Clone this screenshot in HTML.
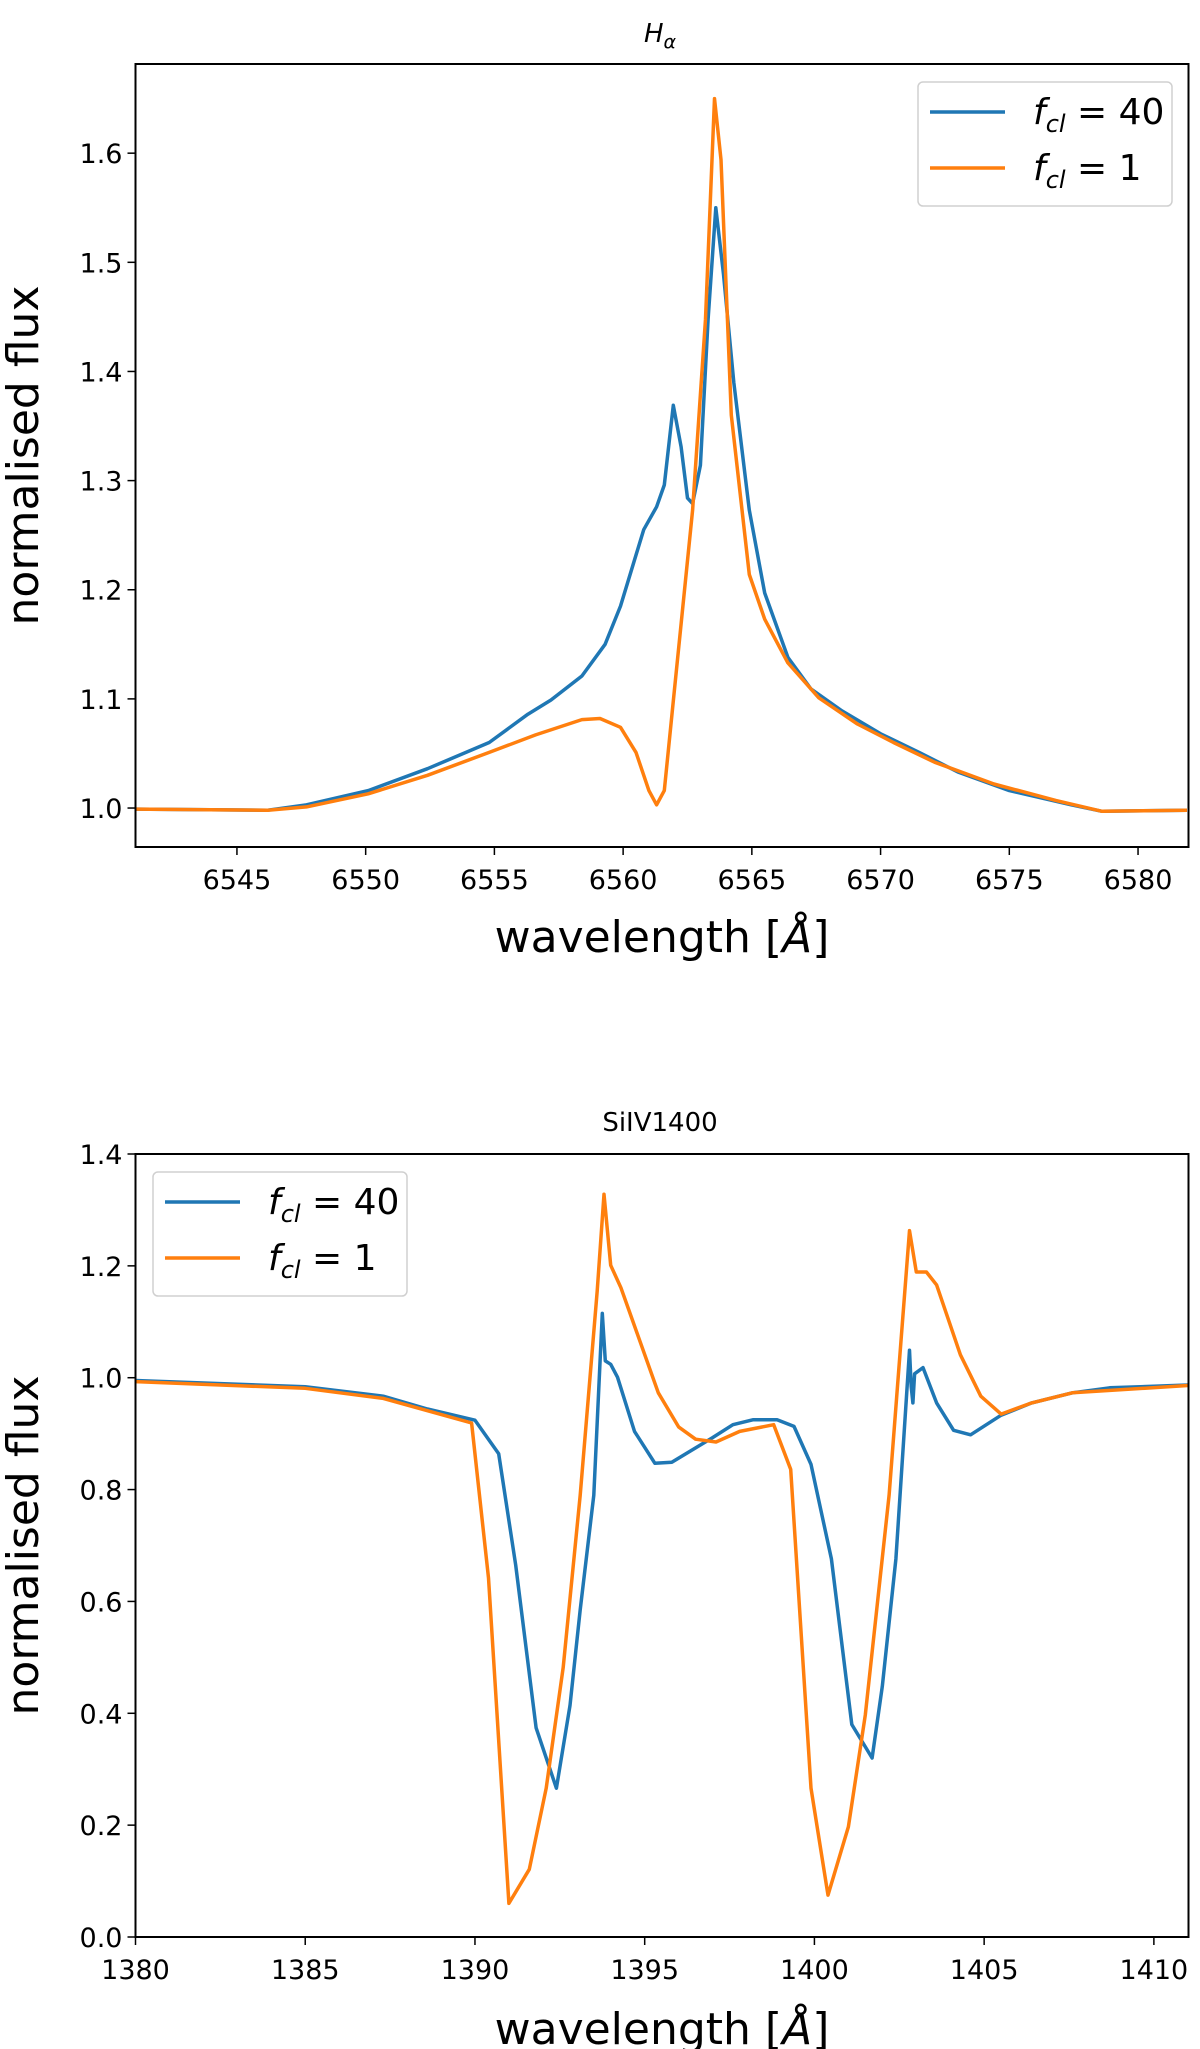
<!DOCTYPE html>
<html><head><meta charset="utf-8"><style>
html,body{margin:0;padding:0;background:#fff;}
svg{display:block;font-family:"DejaVu Sans","Liberation Sans",sans-serif;}
</style></head><body>
<svg id="fig" width="1200" height="2049" viewBox="0 0 1200 2049" xmlns="http://www.w3.org/2000/svg"></svg>
<script>
// ---- Panel 1: H-alpha ----
const haWaveBlue = [6541.05,6546.2,6547.7,6550.1,6552.4,6554.8,6556.3,6557.2,6558.4,6559.3,6559.9,6560.8,6561.3,6561.6,6561.95,6562.25,6562.5,6562.7,6563.0,6563.3,6563.6,6563.9,6564.3,6564.9,6565.5,6566.4,6567.3,6568.5,6570.0,6571.5,6573.0,6575.0,6577.4,6578.6,6581.9];
const haFluxBlue = [0.999,0.998,1.003,1.016,1.036,1.06,1.086,1.099,1.121,1.150,1.185,1.255,1.276,1.296,1.369,1.331,1.284,1.279,1.314,1.448,1.550,1.489,1.390,1.273,1.197,1.138,1.109,1.089,1.068,1.051,1.033,1.016,1.003,0.997,0.998];
const haWaveOrange = [6541.05,6546.2,6547.7,6550.1,6552.4,6554.8,6556.6,6558.4,6559.1,6559.9,6560.5,6561.0,6561.3,6561.6,6561.95,6562.7,6563.2,6563.55,6563.8,6564.2,6564.9,6565.5,6566.4,6567.6,6569.1,6570.5,6572.1,6574.4,6576.8,6578.6,6581.9];
const haFluxOrange = [0.999,0.998,1.001,1.013,1.030,1.051,1.067,1.081,1.082,1.074,1.051,1.016,1.003,1.016,1.098,1.273,1.448,1.650,1.594,1.360,1.214,1.173,1.133,1.101,1.077,1.060,1.042,1.022,1.007,0.997,0.998];
const haXTicks = [6545,6550,6555,6560,6565,6570,6575,6580];
const haYTicks = [1.0,1.1,1.2,1.3,1.4,1.5,1.6];

// ---- Panel 2: SiIV 1400 ----
const siWaveBlue = [1380,1385.0,1387.3,1388.6,1390.0,1390.7,1391.2,1391.8,1392.4,1392.8,1393.1,1393.5,1393.75,1393.84,1394.0,1394.2,1394.7,1395.3,1395.8,1397.0,1397.6,1398.2,1398.9,1399.4,1399.9,1400.5,1401.1,1401.7,1402.0,1402.4,1402.8,1402.85,1402.9,1402.95,1403.2,1403.6,1404.1,1404.6,1405.5,1406.4,1407.6,1408.7,1411];
const siFluxBlue = [0.995,0.984,0.967,0.944,0.924,0.864,0.665,0.374,0.266,0.414,0.585,0.790,1.115,1.03,1.024,1.001,0.904,0.847,0.849,0.893,0.916,0.925,0.925,0.913,0.845,0.676,0.380,0.320,0.448,0.676,1.049,0.984,0.955,1.007,1.018,0.955,0.906,0.898,0.933,0.955,0.973,0.982,0.987];
const siWaveOrange = [1380,1385,1387.3,1388.6,1389.9,1390.4,1391.0,1391.6,1392.1,1392.6,1393.1,1393.6,1393.8,1394.0,1394.3,1395.4,1396.0,1396.5,1397.1,1397.8,1398.8,1399.3,1399.9,1400.4,1401.0,1401.5,1402.2,1402.8,1403.0,1403.3,1403.6,1404.3,1404.9,1405.5,1406.4,1407.6,1411];
const siFluxOrange = [0.993,0.981,0.963,0.941,0.919,0.642,0.060,0.121,0.266,0.482,0.790,1.155,1.328,1.201,1.161,0.973,0.912,0.890,0.885,0.904,0.916,0.836,0.266,0.075,0.197,0.397,0.790,1.263,1.189,1.189,1.166,1.041,0.967,0.935,0.955,0.973,0.986];
const siXTicks = [1380,1385,1390,1395,1400,1405,1410];
const siYTicks = [0.0,0.2,0.4,0.6,0.8,1.0,1.2,1.4];

const NS = "http://www.w3.org/2000/svg";
const svg = document.getElementById('fig');
function mk(tag, attrs, parent, text){
  const e = document.createElementNS(NS, tag);
  for (const k in attrs) e.setAttribute(k, attrs[k]);
  if (text !== undefined) e.textContent = text;
  (parent||svg).appendChild(e);
  return e;
}

function panel(o){
  const g = mk('g', {});
  
  
  const L=135.5, R=1188.5, T=o.top, B=o.bottom;
  const sx = v => L + (v - o.xmin)/(o.xmax - o.xmin)*(R-L);
  const sy = v => B - (v - o.ymin)/(o.ymax - o.ymin)*(B-T);
  const clip = mk('clipPath', {id:o.name+'-clip'}, g);
  mk('rect', {x:L, y:T, width:R-L, height:B-T}, clip);

  const t = mk('text', {x:660, y:o.titleY, 'text-anchor':'middle', 'font-size':26, fill:'#000', 'font-style':o.titleItalic?'italic':'normal'}, g);
  
  
  if (o.titleItalic){ t.textContent='H'; mk('tspan',{'font-size':19,dy:6},t,'α'); }
  else t.textContent = o.title;

  const series = [[o.wb,o.fb,'#1f77b4','series-fcl-40'],[o.wo,o.fo,'#ff7f0e','series-fcl-1']];
  series.forEach(s=>{
    const d = s[0].map((w,i)=>(i?'L':'M')+sx(w).toFixed(1)+' '+sy(s[1][i]).toFixed(1)).join(' ');
    const p = mk('path', {d:d, fill:'none', stroke:s[2], 'stroke-width':3.5, 'stroke-linejoin':'round', 'clip-path':'url(#'+o.name+'-clip)'}, g);
    
    
  });

  const frame = mk('rect', {x:L, y:T, width:R-L, height:B-T, fill:'none', stroke:'#000', 'stroke-width':2}, g);
  
  

  o.xt.forEach(v=>{
    const x = sx(v);
    mk('line', {x1:x, x2:x, y1:B, y2:B+8, stroke:'#000', 'stroke-width':1.5}, g);
    const tl = mk('text', {x:x, y:B+42, 'text-anchor':'middle', 'font-size':27, fill:'#000'}, g, String(v));
    
    
  });
  o.yt.forEach(v=>{
    const y = sy(v);
    mk('line', {x1:L-8, x2:L, y1:y, y2:y, stroke:'#000', 'stroke-width':1.5}, g);
    const tl = mk('text', {x:L-13, y:y+10, 'text-anchor':'end', 'font-size':27, fill:'#000'}, g, v.toFixed(1));
    
    
  });
  const xl = mk('text', {x:662, y:o.xlabelY, 'text-anchor':'middle', 'font-size':44, fill:'#000'}, g, 'wavelength [');
  mk('tspan', {'font-style':'italic'}, xl, 'Å');
  mk('tspan', {}, xl, ']');
  
  
  const cy = (T+B)/2;
  const yl = mk('text', {x:0, y:0, transform:'translate(38,'+cy+') rotate(-90)', 'text-anchor':'middle', 'font-size':44, fill:'#000'}, g, 'normalised flux');
  
  

  const lg = mk('g', {}, g);
  
  
  const lx=o.legX, ly=o.legY;
  mk('rect', {x:lx, y:ly, width:254, height:124, rx:5, fill:'#fff', 'fill-opacity':0.8, stroke:'#d0d0d0', 'stroke-width':1.5}, lg);
  [['40','#1f77b4',30],['1','#ff7f0e',86]].forEach(e=>{
    const ent = mk('g', {}, lg);
    
    
    mk('line', {x1:lx+12, x2:lx+87, y1:ly+e[2], y2:ly+e[2], stroke:e[1], 'stroke-width':3.5}, ent);
    const tx = mk('text', {x:lx+115, y:ly+e[2]+12, 'font-size':36, fill:'#000'}, ent);
    mk('tspan', {'font-style':'italic'}, tx, 'f');
    mk('tspan', {'font-style':'italic','font-size':24, dy:8}, tx, 'cl');
    mk('tspan', {dy:-8}, tx, ' = '+e[0]);
  });
}

panel({name:'halpha-panel', top:64, bottom:847, xmin:6541.06, xmax:6581.96, ymin:0.9643, ymax:1.6817,
  wb:haWaveBlue, fb:haFluxBlue, wo:haWaveOrange, fo:haFluxOrange, xt:haXTicks, yt:haYTicks,
  titleItalic:true, titleY:42, xlabelY:952, legX:918, legY:82});
panel({name:'siiv-panel', top:1154, bottom:1937, xmin:1380, xmax:1411.02, ymin:0, ymax:1.4,
  wb:siWaveBlue, fb:siFluxBlue, wo:siWaveOrange, fo:siFluxOrange, xt:siXTicks, yt:siYTicks,
  titleItalic:false, title:'SiIV1400', titleY:1131, xlabelY:2044, legX:153, legY:1172});
</script>
</body></html>
